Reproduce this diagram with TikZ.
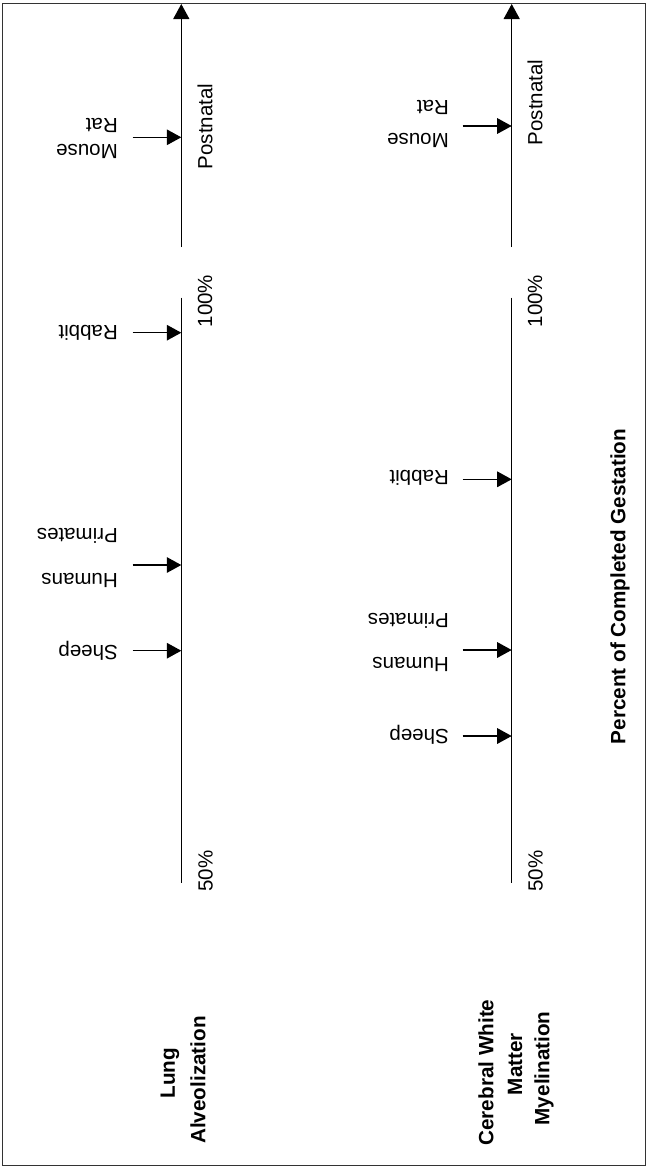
\documentclass[tikz,border=0pt]{standalone}
\usepackage{fontspec}
\setmainfont{Liberation Sans}
\usetikzlibrary{arrows.meta}
\begin{document}
\begin{tikzpicture}[x=1pt,y=-1pt,
  frame/.style={draw=black!80, line width=1.1pt},
  axisline/.style={line width=1.4pt},
  axisarrow/.style={line width=1.4pt, -{Triangle[length=15pt,width=16pt]}},
  species/.style={line width=1.4pt, -{Triangle[length=14.5pt,width=15.5pt]}},
  lab/.style={rotate=180, anchor=west, inner sep=0pt, font=\fontsize{20.5}{24}\selectfont},
  vlab/.style={rotate=90, inner sep=0pt, font=\fontsize{20.5}{24}\selectfont},
  ttl/.style={rotate=90, inner sep=0pt, font=\fontsize{20.7}{24}\selectfont\bfseries}]
\useasboundingbox (0,0) rectangle (646,1168);
\draw[frame] (2.5,3.3) rectangle (645.5,1165.3);

% ---------- axis 1 (Lung Alveolization) ----------
\coordinate (a1top) at (181.3,4);
\coordinate (a1mid) at (181.3,247);
\coordinate (a1hi) at (181.3,297.7);
\coordinate (a1lo) at (181.3,883);
\draw[axisarrow] (a1mid) -- (a1top);
\draw[axisline] (a1hi) -- (a1lo);

\coordinate (a1mouseS) at (132.7,137.3); \coordinate (a1mouseE) at (181.3,137.3);
\coordinate (a1rabS) at (132.7,332.7);   \coordinate (a1rabE) at (181.3,332.7);
\coordinate (a1humS) at (132.7,565);     \coordinate (a1humE) at (181.3,565);
\coordinate (a1shS) at (132.7,650.7);    \coordinate (a1shE) at (181.3,650.7);
\draw[species] (a1mouseS) -- (a1mouseE);
\draw[species] (a1rabS) -- (a1rabE);
\draw[species] (a1humS) -- (a1humE);
\draw[species] (a1shS) -- (a1shE);

\node[lab] (a1rat) at (118,125.6) {Rat};
\node[lab] (a1mouse) at (118,151.3) {Mouse};
\node[lab] (a1rabbit) at (118,332.7) {Rabbit};
\node[lab] (a1prim) at (118,535.5) {Primates};
\node[lab] (a1hum) at (118,580.5) {Humans};
\node[lab] (a1sheep) at (118,651) {Sheep};

\node[vlab] (a1post) at (205,126.5) {Postnatal};
\node[vlab] (a1hundred) at (205,301) {100\%};
\node[vlab] (a1fifty) at (205.5,871) {50\%};

\node[ttl] (lung1) at (170,1073) {Lung};
\node[ttl] (lung2) at (198,1080) {Alveolization};

% ---------- axis 2 (Cerebral White Matter Myelination) ----------
\coordinate (a2top) at (511.7,4);
\coordinate (a2mid) at (511.7,247);
\coordinate (a2hi) at (511.7,297.7);
\coordinate (a2lo) at (511.7,883);
\draw[axisarrow] (a2mid) -- (a2top);
\draw[axisline] (a2hi) -- (a2lo);

\coordinate (a2mouseS) at (462.7,126); \coordinate (a2mouseE) at (511.7,126);
\coordinate (a2rabS) at (462.7,479.3); \coordinate (a2rabE) at (511.7,479.3);
\coordinate (a2humS) at (462.7,650);   \coordinate (a2humE) at (511.7,650);
\coordinate (a2shS) at (462.7,736);    \coordinate (a2shE) at (511.7,736);
\draw[species] (a2mouseS) -- (a2mouseE);
\draw[species] (a2rabS) -- (a2rabE);
\draw[species] (a2humS) -- (a2humE);
\draw[species] (a2shS) -- (a2shE);

\node[lab] (a2rat) at (449,107.5) {Rat};
\node[lab] (a2mouse) at (449,140) {Mouse};
\node[lab] (a2rabbit) at (449,477.5) {Rabbit};
\node[lab] (a2prim) at (449,620.5) {Primates};
\node[lab] (a2hum) at (449,664.5) {Humans};
\node[lab] (a2sheep) at (449,735) {Sheep};

\node[vlab] (a2post) at (535,102.5) {Postnatal};
\node[vlab] (a2hundred) at (535,301) {100\%};
\node[vlab] (a2fifty) at (535.5,871) {50\%};

\node[ttl] (cwm1) at (486,1072.5) {Cerebral White};
\node[ttl] (cwm2) at (515,1064) {Matter};
\node[ttl] (cwm3) at (544,1068.3) {Myelination};

% ---------- common title ----------
\node[ttl] (pct) at (620,586.5) {Percent of Completed Gestation};
\end{tikzpicture}
\end{document}
